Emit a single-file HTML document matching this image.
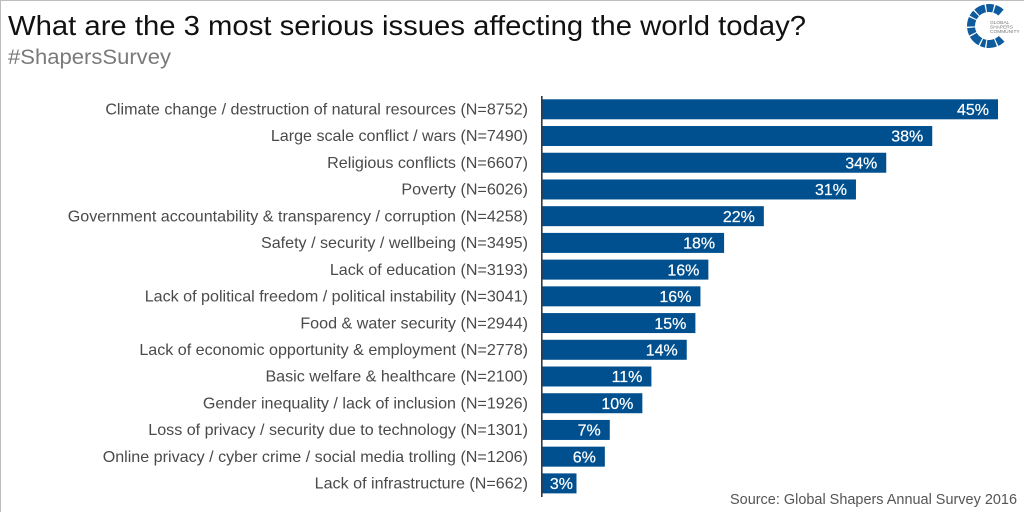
<!DOCTYPE html>
<html lang="en">
<head>
<meta charset="utf-8">
<title>What are the 3 most serious issues affecting the world today?</title>
<style>
html,body{margin:0;padding:0;background:#fff;}
svg{display:block;font-family:"Liberation Sans",Arial,sans-serif;}
</style>
</head>
<body>
<svg id="chart" width="1024" height="512" viewBox="0 0 1024 512" xmlns="http://www.w3.org/2000/svg">
  <rect x="0" y="0" width="1024" height="512" fill="#ffffff"/>
  <rect x="0" y="0" width="1024" height="1" fill="#bdbdbd"/>
  <rect x="0" y="0" width="1" height="512" fill="#bdbdbd"/>
  <text x="8" y="35" font-size="28" fill="#111111" textLength="798" lengthAdjust="spacingAndGlyphs">What are the 3 most serious issues affecting the world today?</text>
  <text x="8" y="64" font-size="21" fill="#7a7a7a" textLength="163" lengthAdjust="spacingAndGlyphs">#ShapersSurvey</text>
  <g id="logo">
    <circle cx="989" cy="26" r="18" fill="none" stroke="#0e5c9e" stroke-width="8" pathLength="360" stroke-dasharray="18 4 28 4 14 4 32 4 20 4 26 4 16 4 30 4 22 4 24 94" transform="rotate(47 989 26)"/>
    <text x="990" y="24" font-size="4.8" fill="#777777">GLOBAL</text>
    <text x="990" y="28.5" font-size="4.8" fill="#777777">SHAPERS</text>
    <text x="990" y="33" font-size="4.8" fill="#777777">COMMUNITY</text>
  </g>
  <g id="rows"></g>
  <rect x="541" y="96" width="1.6" height="401" fill="#333a40"/>
  <text x="1017" y="504" font-size="15" fill="#555555" text-anchor="end" textLength="287" lengthAdjust="spacingAndGlyphs">Source: Global Shapers Annual Survey 2016</text>
</svg>
<script>
const categories = [
  "Climate change / destruction of natural resources",
  "Large scale conflict / wars",
  "Religious conflicts",
  "Poverty",
  "Government accountability & transparency / corruption",
  "Safety / security / wellbeing",
  "Lack of education",
  "Lack of political freedom / political instability",
  "Food & water security",
  "Lack of economic opportunity & employment",
  "Basic welfare & healthcare",
  "Gender inequality / lack of inclusion",
  "Loss of privacy / security due to technology",
  "Online privacy / cyber crime / social media trolling",
  "Lack of infrastructure"
];
const responseCounts = [8752, 7490, 6607, 6026, 4258, 3495, 3193, 3041, 2944, 2778, 2100, 1926, 1301, 1206, 662];
const percentLabels = ["45%", "38%", "34%", "31%", "22%", "18%", "16%", "16%", "15%", "14%", "11%", "10%", "7%", "6%", "3%"];

const SVG_NS = "http://www.w3.org/2000/svg";
const rowsGroup = document.getElementById("rows");
const xScale = function (n) { return 542 + n * (456 / 8752); };
const yScale = function (i) { return 109.3 + i * 26.72; };
const barHeight = 20;

categories.forEach(function (name, i) {
  const yc = yScale(i);
  const xEnd = xScale(responseCounts[i]);

  const label = document.createElementNS(SVG_NS, "text");
  
  
  label.setAttribute("x", 528);
  label.setAttribute("y", yc + 5.2);
  label.setAttribute("font-size", "16.1");
  label.setAttribute("fill", "#4a4a4a");
  label.setAttribute("text-anchor", "end");
  label.textContent = name + " (N=" + responseCounts[i] + ")";
  rowsGroup.appendChild(label);

  const bar = document.createElementNS(SVG_NS, "rect");
  
  
  bar.setAttribute("x", xScale(0));
  bar.setAttribute("y", yc - barHeight / 2);
  bar.setAttribute("width", xEnd - xScale(0));
  bar.setAttribute("height", barHeight);
  bar.setAttribute("fill", "#00508f");
  rowsGroup.appendChild(bar);

  const value = document.createElementNS(SVG_NS, "text");
  
  
  value.setAttribute("x", Math.max(xEnd - 9, xScale(0) + 31));
  value.setAttribute("y", yc + 5.7);
  value.setAttribute("font-size", "16");
  value.setAttribute("fill", "#ffffff");
  value.setAttribute("stroke", "#ffffff");
  value.setAttribute("stroke-width", "0.2");
  value.setAttribute("text-anchor", "end");
  value.textContent = percentLabels[i];
  rowsGroup.appendChild(value);
});
</script>
</body>
</html>
